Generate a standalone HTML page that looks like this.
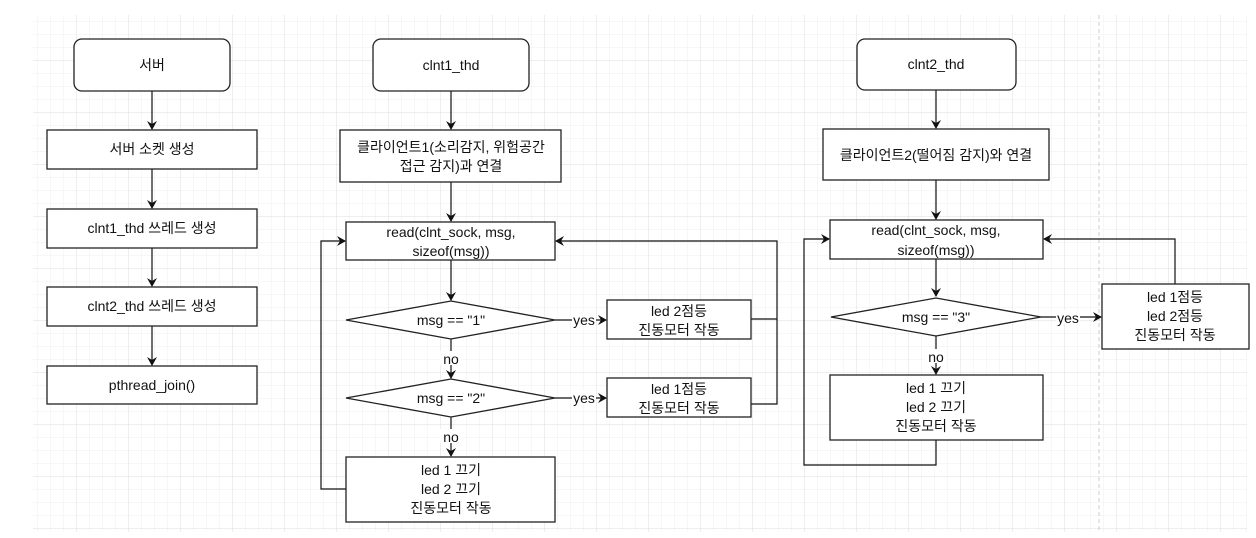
<!DOCTYPE html>
<html><head><meta charset="utf-8"><style>
html,body{margin:0;padding:0;background:#fff;}
svg{display:block;}
text{font-family:"Liberation Sans","Noto Sans CJK KR",sans-serif;font-size:14px;fill:#111;text-anchor:middle;}
.b{fill:#fff;stroke:#222;stroke-width:1.3;}
.l{fill:none;stroke:#111;stroke-width:1.2;}
</style></head><body>
<svg width="1256" height="538" viewBox="0 0 1256 538" xmlns="http://www.w3.org/2000/svg">
<defs>
<pattern id="mn" x="37" y="21" width="13" height="13" patternUnits="userSpaceOnUse"><path d="M0 0H13M0 0V13" stroke="#efefef" stroke-width="1" fill="none"/></pattern>
<pattern id="mj" x="24" y="8" width="52" height="52" patternUnits="userSpaceOnUse"><path d="M0 0H52M0 0V52" stroke="#dedede" stroke-width="1" fill="none"/></pattern>
<marker id="a" markerWidth="10" markerHeight="10" refX="8" refY="5" orient="auto" markerUnits="userSpaceOnUse"><path d="M0,0 L9,5 L0,10 L3,5 z" fill="#111"/></marker>
</defs>
<rect x="33" y="15" width="1214" height="517" fill="url(#mn)"/>
<rect x="33" y="15" width="1214" height="517" fill="url(#mj)"/>
<line x1="1099" y1="15" x2="1099" y2="532" stroke="#ccc" stroke-dasharray="4,3"/>

<!-- left column -->
<line class="l" x1="152" y1="91" x2="152" y2="129" marker-end="url(#a)"/>
<line class="l" x1="152" y1="169" x2="152" y2="208" marker-end="url(#a)"/>
<line class="l" x1="152" y1="248" x2="152" y2="286" marker-end="url(#a)"/>
<line class="l" x1="152" y1="326" x2="152" y2="365" marker-end="url(#a)"/>
<rect class="b" x="74" y="39" width="156" height="52" rx="8"/><text x="152" y="70">서버</text>
<rect class="b" x="47" y="130" width="210" height="39"/><text x="152" y="154">서버 소켓 생성</text>
<rect class="b" x="47" y="209" width="210" height="39"/><text x="152" y="233">clnt1_thd 쓰레드 생성</text>
<rect class="b" x="47" y="287" width="210" height="39"/><text x="152" y="311">clnt2_thd 쓰레드 생성</text>
<rect class="b" x="47" y="366" width="210" height="38"/><text x="152" y="390">pthread_join()</text>

<!-- middle column -->
<line class="l" x1="451" y1="91" x2="451" y2="129" marker-end="url(#a)"/>
<line class="l" x1="451" y1="182" x2="451" y2="221" marker-end="url(#a)"/>
<line class="l" x1="451" y1="260" x2="451" y2="300" marker-end="url(#a)"/>
<line class="l" x1="451" y1="339" x2="451" y2="378" marker-end="url(#a)"/>
<line class="l" x1="451" y1="417" x2="451" y2="456" marker-end="url(#a)"/>
<line class="l" x1="555" y1="320" x2="606" y2="320" marker-end="url(#a)"/>
<line class="l" x1="555" y1="398" x2="606" y2="398" marker-end="url(#a)"/>
<polyline class="l" points="751,319 777,319"/>
<polyline class="l" points="751,404 777,404 777,241 556,241" marker-end="url(#a)"/>
<polyline class="l" points="346,489 321,489 321,241 345,241" marker-end="url(#a)"/>
<rect class="b" x="373" y="39" width="156" height="52" rx="8"/><text x="451" y="70">clnt1_thd</text>
<rect class="b" x="340" y="130" width="221" height="52"/><text x="451" y="152">클라이언트1(소리감지, 위험공간</text><text x="451" y="171">접근 감지)과 연결</text>
<rect class="b" x="346" y="222" width="209" height="38"/><text x="451" y="237">read(clnt_sock, msg,</text><text x="451" y="256">sizeof(msg))</text>
<polygon class="b" points="346,320 451,301 555,320 451,339"/><text x="451" y="325">msg == "1"</text>
<polygon class="b" points="346,398 451,379 555,398 451,417"/><text x="451" y="403">msg == "2"</text>
<rect x="572" y="312" width="24" height="14" fill="#fff"/><text x="584" y="325">yes</text>
<rect x="572" y="390" width="24" height="14" fill="#fff"/><text x="584" y="403">yes</text>
<rect x="440" y="351" width="22" height="14" fill="#fff"/><text x="451" y="364">no</text>
<rect x="440" y="429" width="22" height="14" fill="#fff"/><text x="451" y="442">no</text>
<rect class="b" x="607" y="300" width="144" height="39"/><text x="679" y="316">led 2점등</text><text x="679" y="335">진동모터 작동</text>
<rect class="b" x="607" y="378" width="144" height="39"/><text x="679" y="394">led 1점등</text><text x="679" y="413">진동모터 작동</text>
<rect class="b" x="346" y="457" width="209" height="65"/><text x="451" y="475">led 1 끄기</text><text x="451" y="494">led 2 끄기</text><text x="451" y="513">진동모터 작동</text>

<!-- right column -->
<line class="l" x1="936" y1="90" x2="936" y2="128" marker-end="url(#a)"/>
<line class="l" x1="936" y1="180" x2="936" y2="219" marker-end="url(#a)"/>
<line class="l" x1="936" y1="259" x2="936" y2="296" marker-end="url(#a)"/>
<line class="l" x1="936" y1="336" x2="936" y2="374" marker-end="url(#a)"/>
<line class="l" x1="1041" y1="317" x2="1101" y2="317" marker-end="url(#a)"/>
<polyline class="l" points="1175,284 1175,239 1044,239" marker-end="url(#a)"/>
<polyline class="l" points="936,440 936,465 804,465 804,239 829,239" marker-end="url(#a)"/>
<rect class="b" x="857" y="39" width="159" height="51" rx="8"/><text x="936" y="69">clnt2_thd</text>
<rect class="b" x="823" y="129" width="226" height="51"/><text x="936" y="160">클라이언트2(떨어짐 감지)와 연결</text>
<rect class="b" x="830" y="220" width="213" height="39"/><text x="936" y="235">read(clnt_sock, msg,</text><text x="936" y="255">sizeof(msg))</text>
<polygon class="b" points="831,317 936,298 1041,317 936,336"/><text x="936" y="322">msg == "3"</text>
<rect x="1056" y="310" width="24" height="14" fill="#fff"/><text x="1068" y="323">yes</text>
<rect x="925" y="349" width="22" height="14" fill="#fff"/><text x="936" y="362">no</text>
<rect class="b" x="1102" y="284" width="147" height="65"/><text x="1175" y="302">led 1점등</text><text x="1175" y="321">led 2점등</text><text x="1175" y="340">진동모터 작동</text>
<rect class="b" x="830" y="375" width="213" height="65"/><text x="936" y="393">led 1 끄기</text><text x="936" y="412">led 2 끄기</text><text x="936" y="431">진동모터 작동</text>
</svg>
</body></html>
